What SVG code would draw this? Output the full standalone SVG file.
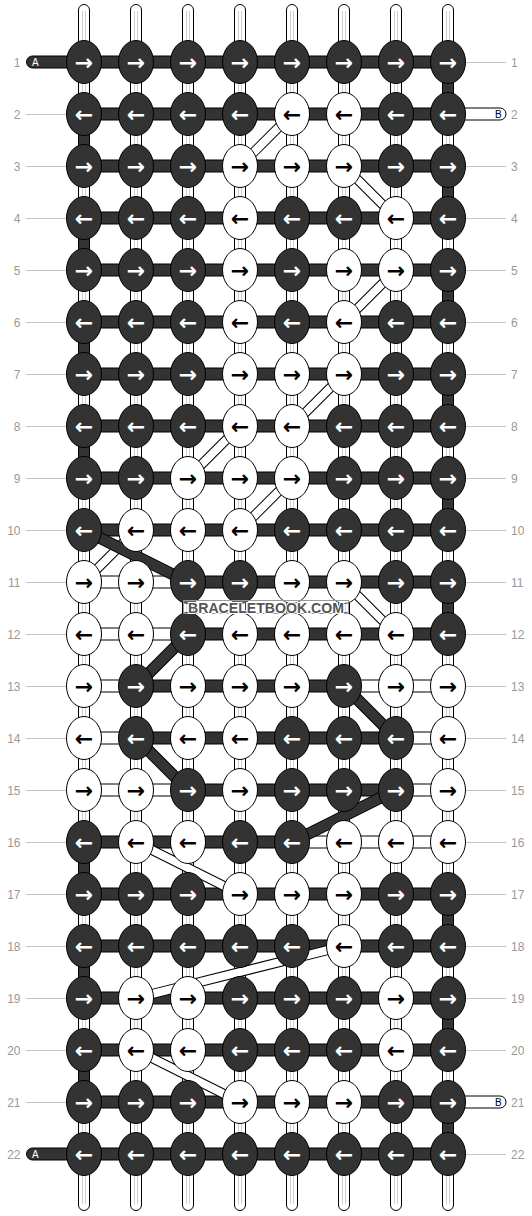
<svg xmlns="http://www.w3.org/2000/svg" width="532" height="1216" viewBox="0 0 532 1216">
<style>
.lbl{font-family:"Liberation Sans",Arial,sans-serif;font-size:12px;fill:#999}
.lr{text-anchor:end}
.gl{stroke:#c4c4c4;stroke-width:1}
.warp{fill:#fff;stroke:#000;stroke-width:1}
.wl{stroke:#cfcfcf;stroke-width:1}
.bd{fill:#333;stroke:#000;stroke-width:1}
.bw{fill:#fff;stroke:#000;stroke-width:1}
.kd{fill:#333;stroke:#000;stroke-width:1}
.kw{fill:#fff;stroke:#000;stroke-width:1}
.a{font-family:"DejaVu Sans",sans-serif;font-size:22px;font-weight:bold;text-anchor:middle;transform:translate(0px,7.5px)}
.ad{fill:#fff}
.aw{fill:#000}
.sl{font-family:"Liberation Sans",Arial,sans-serif;font-size:10px}
.wbo{stroke:#000;stroke-width:10;fill:none}
.wbi{stroke:#fff;stroke-width:8;fill:none}
.dbo{stroke:#000;stroke-width:12;fill:none}
.dbi{stroke:#333;stroke-width:10;fill:none}
.wm{font-family:"Liberation Sans",Arial,sans-serif;font-size:14px;font-weight:bold;fill:#555;stroke:#fff;stroke-width:2;paint-order:stroke;text-anchor:middle}
</style>
<g id="labels">
<line class="gl" x1="26" y1="114.5" x2="70" y2="114.5"/><line class="gl" x1="26" y1="166.5" x2="70" y2="166.5"/><line class="gl" x1="26" y1="218.5" x2="70" y2="218.5"/><line class="gl" x1="26" y1="270.5" x2="70" y2="270.5"/><line class="gl" x1="26" y1="322.5" x2="70" y2="322.5"/><line class="gl" x1="26" y1="374.5" x2="70" y2="374.5"/><line class="gl" x1="26" y1="426.5" x2="70" y2="426.5"/><line class="gl" x1="26" y1="478.5" x2="70" y2="478.5"/><line class="gl" x1="26" y1="530.5" x2="70" y2="530.5"/><line class="gl" x1="26" y1="582.5" x2="70" y2="582.5"/><line class="gl" x1="26" y1="634.5" x2="70" y2="634.5"/><line class="gl" x1="26" y1="686.5" x2="70" y2="686.5"/><line class="gl" x1="26" y1="738.5" x2="70" y2="738.5"/><line class="gl" x1="26" y1="790.5" x2="70" y2="790.5"/><line class="gl" x1="26" y1="842.5" x2="70" y2="842.5"/><line class="gl" x1="26" y1="894.5" x2="70" y2="894.5"/><line class="gl" x1="26" y1="946.5" x2="70" y2="946.5"/><line class="gl" x1="26" y1="998.5" x2="70" y2="998.5"/><line class="gl" x1="26" y1="1050.5" x2="70" y2="1050.5"/><line class="gl" x1="26" y1="1102.5" x2="70" y2="1102.5"/>
<line class="gl" x1="462" y1="62.5" x2="506" y2="62.5"/><line class="gl" x1="462" y1="166.5" x2="506" y2="166.5"/><line class="gl" x1="462" y1="218.5" x2="506" y2="218.5"/><line class="gl" x1="462" y1="270.5" x2="506" y2="270.5"/><line class="gl" x1="462" y1="322.5" x2="506" y2="322.5"/><line class="gl" x1="462" y1="374.5" x2="506" y2="374.5"/><line class="gl" x1="462" y1="426.5" x2="506" y2="426.5"/><line class="gl" x1="462" y1="478.5" x2="506" y2="478.5"/><line class="gl" x1="462" y1="530.5" x2="506" y2="530.5"/><line class="gl" x1="462" y1="582.5" x2="506" y2="582.5"/><line class="gl" x1="462" y1="634.5" x2="506" y2="634.5"/><line class="gl" x1="462" y1="686.5" x2="506" y2="686.5"/><line class="gl" x1="462" y1="738.5" x2="506" y2="738.5"/><line class="gl" x1="462" y1="790.5" x2="506" y2="790.5"/><line class="gl" x1="462" y1="842.5" x2="506" y2="842.5"/><line class="gl" x1="462" y1="894.5" x2="506" y2="894.5"/><line class="gl" x1="462" y1="946.5" x2="506" y2="946.5"/><line class="gl" x1="462" y1="998.5" x2="506" y2="998.5"/><line class="gl" x1="462" y1="1050.5" x2="506" y2="1050.5"/><line class="gl" x1="462" y1="1154.5" x2="506" y2="1154.5"/>
<text class="lbl lr" x="20.5" y="66.5">1</text><text class="lbl lr" x="20.5" y="118.5">2</text><text class="lbl lr" x="20.5" y="170.5">3</text><text class="lbl lr" x="20.5" y="222.5">4</text><text class="lbl lr" x="20.5" y="274.5">5</text><text class="lbl lr" x="20.5" y="326.5">6</text><text class="lbl lr" x="20.5" y="378.5">7</text><text class="lbl lr" x="20.5" y="430.5">8</text><text class="lbl lr" x="20.5" y="482.5">9</text><text class="lbl lr" x="20.5" y="534.5">10</text><text class="lbl lr" x="20.5" y="586.5">11</text><text class="lbl lr" x="20.5" y="638.5">12</text><text class="lbl lr" x="20.5" y="690.5">13</text><text class="lbl lr" x="20.5" y="742.5">14</text><text class="lbl lr" x="20.5" y="794.5">15</text><text class="lbl lr" x="20.5" y="846.5">16</text><text class="lbl lr" x="20.5" y="898.5">17</text><text class="lbl lr" x="20.5" y="950.5">18</text><text class="lbl lr" x="20.5" y="1002.5">19</text><text class="lbl lr" x="20.5" y="1054.5">20</text><text class="lbl lr" x="20.5" y="1106.5">21</text><text class="lbl lr" x="20.5" y="1158.5">22</text>
<text class="lbl" x="511" y="66.5">1</text><text class="lbl" x="511" y="118.5">2</text><text class="lbl" x="511" y="170.5">3</text><text class="lbl" x="511" y="222.5">4</text><text class="lbl" x="511" y="274.5">5</text><text class="lbl" x="511" y="326.5">6</text><text class="lbl" x="511" y="378.5">7</text><text class="lbl" x="511" y="430.5">8</text><text class="lbl" x="511" y="482.5">9</text><text class="lbl" x="511" y="534.5">10</text><text class="lbl" x="511" y="586.5">11</text><text class="lbl" x="511" y="638.5">12</text><text class="lbl" x="511" y="690.5">13</text><text class="lbl" x="511" y="742.5">14</text><text class="lbl" x="511" y="794.5">15</text><text class="lbl" x="511" y="846.5">16</text><text class="lbl" x="511" y="898.5">17</text><text class="lbl" x="511" y="950.5">18</text><text class="lbl" x="511" y="1002.5">19</text><text class="lbl" x="511" y="1054.5">20</text><text class="lbl" x="511" y="1106.5">21</text><text class="lbl" x="511" y="1158.5">22</text>
</g>
<g id="warps">
<rect class="warp" x="78.5" y="4.5" width="11" height="1206" rx="5.5"/><rect class="warp" x="130.5" y="4.5" width="11" height="1206" rx="5.5"/><rect class="warp" x="182.5" y="4.5" width="11" height="1206" rx="5.5"/><rect class="warp" x="234.5" y="4.5" width="11" height="1206" rx="5.5"/><rect class="warp" x="286.5" y="4.5" width="11" height="1206" rx="5.5"/><rect class="warp" x="338.5" y="4.5" width="11" height="1206" rx="5.5"/><rect class="warp" x="390.5" y="4.5" width="11" height="1206" rx="5.5"/><rect class="warp" x="442.5" y="4.5" width="11" height="1206" rx="5.5"/>
<path class="wl" d="M82.5 11V1204M85.5 11V1204M134.5 11V1204M137.5 11V1204M186.5 11V1204M189.5 11V1204M238.5 11V1204M241.5 11V1204M290.5 11V1204M293.5 11V1204M342.5 11V1204M345.5 11V1204M394.5 11V1204M397.5 11V1204M446.5 11V1204M449.5 11V1204"/>
</g>
<g id="connectors">
<rect class="bd" x="26.5" y="56" width="56" height="12" rx="6"/><text class="sl" x="32" y="66" fill="#fff">A</text>
<rect class="bd" x="26.5" y="1148" width="56" height="12" rx="6"/><text class="sl" x="32" y="1158" fill="#fff">A</text>
<rect class="bw" x="440" y="108" width="66" height="12" rx="6"/><text class="sl" x="495" y="118" fill="#000">B</text>
<rect class="bw" x="440" y="1096" width="66" height="12" rx="6"/><text class="sl" x="495" y="1106" fill="#000">B</text>
<g id="bars">
<rect class="bd" x="94" y="56" width="32" height="12"/><rect class="bd" x="146" y="56" width="32" height="12"/><rect class="bd" x="198" y="56" width="32" height="12"/><rect class="bd" x="250" y="56" width="32" height="12"/><rect class="bd" x="302" y="56" width="32" height="12"/><rect class="bd" x="354" y="56" width="32" height="12"/><rect class="bd" x="406" y="56" width="32" height="12"/>
<rect class="bd" x="94" y="108" width="32" height="12"/><rect class="bd" x="146" y="108" width="32" height="12"/><rect class="bd" x="198" y="108" width="32" height="12"/><rect class="bd" x="250" y="108" width="32" height="12"/><rect class="bd" x="302" y="108" width="32" height="12"/><rect class="bd" x="354" y="108" width="32" height="12"/><rect class="bd" x="406" y="108" width="32" height="12"/>
<rect class="bd" x="94" y="160" width="32" height="12"/><rect class="bd" x="146" y="160" width="32" height="12"/><rect class="bd" x="198" y="160" width="32" height="12"/><rect class="bd" x="250" y="160" width="32" height="12"/><rect class="bd" x="302" y="160" width="32" height="12"/><rect class="bd" x="354" y="160" width="32" height="12"/><rect class="bd" x="406" y="160" width="32" height="12"/>
<rect class="bd" x="94" y="212" width="32" height="12"/><rect class="bd" x="146" y="212" width="32" height="12"/><rect class="bd" x="198" y="212" width="32" height="12"/><rect class="bd" x="250" y="212" width="32" height="12"/><rect class="bd" x="302" y="212" width="32" height="12"/><rect class="bd" x="354" y="212" width="32" height="12"/><rect class="bd" x="406" y="212" width="32" height="12"/>
<rect class="bd" x="94" y="264" width="32" height="12"/><rect class="bd" x="146" y="264" width="32" height="12"/><rect class="bd" x="198" y="264" width="32" height="12"/><rect class="bd" x="250" y="264" width="32" height="12"/><rect class="bd" x="302" y="264" width="32" height="12"/><rect class="bd" x="354" y="264" width="32" height="12"/><rect class="bd" x="406" y="264" width="32" height="12"/>
<rect class="bd" x="94" y="316" width="32" height="12"/><rect class="bd" x="146" y="316" width="32" height="12"/><rect class="bd" x="198" y="316" width="32" height="12"/><rect class="bd" x="250" y="316" width="32" height="12"/><rect class="bd" x="302" y="316" width="32" height="12"/><rect class="bd" x="354" y="316" width="32" height="12"/><rect class="bd" x="406" y="316" width="32" height="12"/>
<rect class="bd" x="94" y="368" width="32" height="12"/><rect class="bd" x="146" y="368" width="32" height="12"/><rect class="bd" x="198" y="368" width="32" height="12"/><rect class="bd" x="250" y="368" width="32" height="12"/><rect class="bd" x="302" y="368" width="32" height="12"/><rect class="bd" x="354" y="368" width="32" height="12"/><rect class="bd" x="406" y="368" width="32" height="12"/>
<rect class="bd" x="94" y="420" width="32" height="12"/><rect class="bd" x="146" y="420" width="32" height="12"/><rect class="bd" x="198" y="420" width="32" height="12"/><rect class="bd" x="250" y="420" width="32" height="12"/><rect class="bd" x="302" y="420" width="32" height="12"/><rect class="bd" x="354" y="420" width="32" height="12"/><rect class="bd" x="406" y="420" width="32" height="12"/>
<rect class="bd" x="94" y="472" width="32" height="12"/><rect class="bd" x="146" y="472" width="32" height="12"/><rect class="bd" x="198" y="472" width="32" height="12"/><rect class="bd" x="250" y="472" width="32" height="12"/><rect class="bd" x="302" y="472" width="32" height="12"/><rect class="bd" x="354" y="472" width="32" height="12"/><rect class="bd" x="406" y="472" width="32" height="12"/>
<rect class="bd" x="94" y="524" width="32" height="12"/><rect class="bd" x="146" y="524" width="32" height="12"/><rect class="bd" x="198" y="524" width="32" height="12"/><rect class="bd" x="250" y="524" width="32" height="12"/><rect class="bd" x="302" y="524" width="32" height="12"/><rect class="bd" x="354" y="524" width="32" height="12"/><rect class="bd" x="406" y="524" width="32" height="12"/>
<rect class="bw" x="94" y="576" width="32" height="12"/><rect class="bw" x="146" y="576" width="32" height="12"/><rect class="bd" x="198" y="576" width="32" height="12"/><rect class="bd" x="250" y="576" width="32" height="12"/><rect class="bd" x="302" y="576" width="32" height="12"/><rect class="bd" x="354" y="576" width="32" height="12"/><rect class="bd" x="406" y="576" width="32" height="12"/>
<rect class="bw" x="94" y="628" width="32" height="12"/><rect class="bw" x="146" y="628" width="32" height="12"/><rect class="bd" x="198" y="628" width="32" height="12"/><rect class="bd" x="250" y="628" width="32" height="12"/><rect class="bd" x="302" y="628" width="32" height="12"/><rect class="bd" x="354" y="628" width="32" height="12"/><rect class="bd" x="406" y="628" width="32" height="12"/>
<rect class="bw" x="94" y="680" width="32" height="12"/><rect class="bd" x="146" y="680" width="32" height="12"/><rect class="bd" x="198" y="680" width="32" height="12"/><rect class="bd" x="250" y="680" width="32" height="12"/><rect class="bd" x="302" y="680" width="32" height="12"/><rect class="bw" x="354" y="680" width="32" height="12"/><rect class="bw" x="406" y="680" width="32" height="12"/>
<rect class="bw" x="94" y="732" width="32" height="12"/><rect class="bd" x="146" y="732" width="32" height="12"/><rect class="bd" x="198" y="732" width="32" height="12"/><rect class="bd" x="250" y="732" width="32" height="12"/><rect class="bd" x="302" y="732" width="32" height="12"/><rect class="bd" x="354" y="732" width="32" height="12"/><rect class="bw" x="406" y="732" width="32" height="12"/>
<rect class="bw" x="94" y="784" width="32" height="12"/><rect class="bw" x="146" y="784" width="32" height="12"/><rect class="bd" x="198" y="784" width="32" height="12"/><rect class="bd" x="250" y="784" width="32" height="12"/><rect class="bd" x="302" y="784" width="32" height="12"/><rect class="bd" x="354" y="784" width="32" height="12"/><rect class="bw" x="406" y="784" width="32" height="12"/>
<rect class="bd" x="94" y="836" width="32" height="12"/><rect class="bd" x="146" y="836" width="32" height="12"/><rect class="bd" x="198" y="836" width="32" height="12"/><rect class="bd" x="250" y="836" width="32" height="12"/><rect class="bw" x="302" y="836" width="32" height="12"/><rect class="bw" x="354" y="836" width="32" height="12"/><rect class="bw" x="406" y="836" width="32" height="12"/>
<rect class="bd" x="94" y="888" width="32" height="12"/><rect class="bd" x="146" y="888" width="32" height="12"/><rect class="bd" x="198" y="888" width="32" height="12"/><rect class="bd" x="250" y="888" width="32" height="12"/><rect class="bd" x="302" y="888" width="32" height="12"/><rect class="bd" x="354" y="888" width="32" height="12"/><rect class="bd" x="406" y="888" width="32" height="12"/>
<rect class="bd" x="94" y="940" width="32" height="12"/><rect class="bd" x="146" y="940" width="32" height="12"/><rect class="bd" x="198" y="940" width="32" height="12"/><rect class="bd" x="250" y="940" width="32" height="12"/><rect class="bd" x="302" y="940" width="32" height="12"/><rect class="bd" x="354" y="940" width="32" height="12"/><rect class="bd" x="406" y="940" width="32" height="12"/>
<rect class="bd" x="94" y="992" width="32" height="12"/><rect class="bd" x="146" y="992" width="32" height="12"/><rect class="bd" x="198" y="992" width="32" height="12"/><rect class="bd" x="250" y="992" width="32" height="12"/><rect class="bd" x="302" y="992" width="32" height="12"/><rect class="bd" x="354" y="992" width="32" height="12"/><rect class="bd" x="406" y="992" width="32" height="12"/>
<rect class="bd" x="94" y="1044" width="32" height="12"/><rect class="bd" x="146" y="1044" width="32" height="12"/><rect class="bd" x="198" y="1044" width="32" height="12"/><rect class="bd" x="250" y="1044" width="32" height="12"/><rect class="bd" x="302" y="1044" width="32" height="12"/><rect class="bd" x="354" y="1044" width="32" height="12"/><rect class="bd" x="406" y="1044" width="32" height="12"/>
<rect class="bd" x="94" y="1096" width="32" height="12"/><rect class="bd" x="146" y="1096" width="32" height="12"/><rect class="bd" x="198" y="1096" width="32" height="12"/><rect class="bd" x="250" y="1096" width="32" height="12"/><rect class="bd" x="302" y="1096" width="32" height="12"/><rect class="bd" x="354" y="1096" width="32" height="12"/><rect class="bd" x="406" y="1096" width="32" height="12"/>
<rect class="bd" x="94" y="1148" width="32" height="12"/><rect class="bd" x="146" y="1148" width="32" height="12"/><rect class="bd" x="198" y="1148" width="32" height="12"/><rect class="bd" x="250" y="1148" width="32" height="12"/><rect class="bd" x="302" y="1148" width="32" height="12"/><rect class="bd" x="354" y="1148" width="32" height="12"/><rect class="bd" x="406" y="1148" width="32" height="12"/>
</g>
<g id="turns">
<rect class="bd" x="78.5" y="126" width="11" height="28"/><rect class="bd" x="78.5" y="230" width="11" height="28"/><rect class="bd" x="78.5" y="334" width="11" height="28"/><rect class="bd" x="78.5" y="438" width="11" height="28"/><rect class="bd" x="78.5" y="854" width="11" height="28"/><rect class="bd" x="78.5" y="958" width="11" height="28"/><rect class="bd" x="78.5" y="1062" width="11" height="28"/>
<rect class="bd" x="442.5" y="74" width="11" height="28"/><rect class="bd" x="442.5" y="178" width="11" height="28"/><rect class="bd" x="442.5" y="282" width="11" height="28"/><rect class="bd" x="442.5" y="386" width="11" height="28"/><rect class="bd" x="442.5" y="490" width="11" height="28"/><rect class="bd" x="442.5" y="594" width="11" height="28"/><rect class="bd" x="442.5" y="906" width="11" height="28"/><rect class="bd" x="442.5" y="1010" width="11" height="28"/><rect class="bd" x="442.5" y="1114" width="11" height="28"/>
</g>
<g id="diagonals">
<path class="wbo" d="M292 114L240 166M344 166L396 218M396 270L344 322M344 374L292 426M240 426L188 478M292 478L240 530M136 530L84 582M344 582L396 634M136 842L240 894M344 946L136 998M136 1050L240 1102"/>
<path class="wbi" d="M292 114L240 166M344 166L396 218M396 270L344 322M344 374L292 426M240 426L188 478M292 478L240 530M136 530L84 582M344 582L396 634M136 842L240 894M344 946L136 998M136 1050L240 1102"/>
<path class="dbo" d="M84 530L188 582M188 634L136 686M136 738L188 790M344 686L396 738M396 790L292 842"/>
<path class="dbi" d="M84 530L188 582M188 634L136 686M136 738L188 790M344 686L396 738M396 790L292 842"/>
</g>
</g>
<g id="knots">
<g id="k1-1"><ellipse class="kd" cx="84" cy="62" rx="17.5" ry="21.5"/><text class="a ad" x="84" y="62">→</text></g>
<g id="k1-2"><ellipse class="kd" cx="136" cy="62" rx="17.5" ry="21.5"/><text class="a ad" x="136" y="62">→</text></g>
<g id="k1-3"><ellipse class="kd" cx="188" cy="62" rx="17.5" ry="21.5"/><text class="a ad" x="188" y="62">→</text></g>
<g id="k1-4"><ellipse class="kd" cx="240" cy="62" rx="17.5" ry="21.5"/><text class="a ad" x="240" y="62">→</text></g>
<g id="k1-5"><ellipse class="kd" cx="292" cy="62" rx="17.5" ry="21.5"/><text class="a ad" x="292" y="62">→</text></g>
<g id="k1-6"><ellipse class="kd" cx="344" cy="62" rx="17.5" ry="21.5"/><text class="a ad" x="344" y="62">→</text></g>
<g id="k1-7"><ellipse class="kd" cx="396" cy="62" rx="17.5" ry="21.5"/><text class="a ad" x="396" y="62">→</text></g>
<g id="k1-8"><ellipse class="kd" cx="448" cy="62" rx="17.5" ry="21.5"/><text class="a ad" x="448" y="62">→</text></g>
<g id="k2-1"><ellipse class="kd" cx="84" cy="114" rx="17.5" ry="21.5"/><text class="a ad" x="84" y="114">←</text></g>
<g id="k2-2"><ellipse class="kd" cx="136" cy="114" rx="17.5" ry="21.5"/><text class="a ad" x="136" y="114">←</text></g>
<g id="k2-3"><ellipse class="kd" cx="188" cy="114" rx="17.5" ry="21.5"/><text class="a ad" x="188" y="114">←</text></g>
<g id="k2-4"><ellipse class="kd" cx="240" cy="114" rx="17.5" ry="21.5"/><text class="a ad" x="240" y="114">←</text></g>
<g id="k2-5"><ellipse class="kw" cx="292" cy="114" rx="17.5" ry="21.5"/><text class="a aw" x="292" y="114">←</text></g>
<g id="k2-6"><ellipse class="kw" cx="344" cy="114" rx="17.5" ry="21.5"/><text class="a aw" x="344" y="114">←</text></g>
<g id="k2-7"><ellipse class="kd" cx="396" cy="114" rx="17.5" ry="21.5"/><text class="a ad" x="396" y="114">←</text></g>
<g id="k2-8"><ellipse class="kd" cx="448" cy="114" rx="17.5" ry="21.5"/><text class="a ad" x="448" y="114">←</text></g>
<g id="k3-1"><ellipse class="kd" cx="84" cy="166" rx="17.5" ry="21.5"/><text class="a ad" x="84" y="166">→</text></g>
<g id="k3-2"><ellipse class="kd" cx="136" cy="166" rx="17.5" ry="21.5"/><text class="a ad" x="136" y="166">→</text></g>
<g id="k3-3"><ellipse class="kd" cx="188" cy="166" rx="17.5" ry="21.5"/><text class="a ad" x="188" y="166">→</text></g>
<g id="k3-4"><ellipse class="kw" cx="240" cy="166" rx="17.5" ry="21.5"/><text class="a aw" x="240" y="166">→</text></g>
<g id="k3-5"><ellipse class="kw" cx="292" cy="166" rx="17.5" ry="21.5"/><text class="a aw" x="292" y="166">→</text></g>
<g id="k3-6"><ellipse class="kw" cx="344" cy="166" rx="17.5" ry="21.5"/><text class="a aw" x="344" y="166">→</text></g>
<g id="k3-7"><ellipse class="kd" cx="396" cy="166" rx="17.5" ry="21.5"/><text class="a ad" x="396" y="166">→</text></g>
<g id="k3-8"><ellipse class="kd" cx="448" cy="166" rx="17.5" ry="21.5"/><text class="a ad" x="448" y="166">→</text></g>
<g id="k4-1"><ellipse class="kd" cx="84" cy="218" rx="17.5" ry="21.5"/><text class="a ad" x="84" y="218">←</text></g>
<g id="k4-2"><ellipse class="kd" cx="136" cy="218" rx="17.5" ry="21.5"/><text class="a ad" x="136" y="218">←</text></g>
<g id="k4-3"><ellipse class="kd" cx="188" cy="218" rx="17.5" ry="21.5"/><text class="a ad" x="188" y="218">←</text></g>
<g id="k4-4"><ellipse class="kw" cx="240" cy="218" rx="17.5" ry="21.5"/><text class="a aw" x="240" y="218">←</text></g>
<g id="k4-5"><ellipse class="kd" cx="292" cy="218" rx="17.5" ry="21.5"/><text class="a ad" x="292" y="218">←</text></g>
<g id="k4-6"><ellipse class="kd" cx="344" cy="218" rx="17.5" ry="21.5"/><text class="a ad" x="344" y="218">←</text></g>
<g id="k4-7"><ellipse class="kw" cx="396" cy="218" rx="17.5" ry="21.5"/><text class="a aw" x="396" y="218">←</text></g>
<g id="k4-8"><ellipse class="kd" cx="448" cy="218" rx="17.5" ry="21.5"/><text class="a ad" x="448" y="218">←</text></g>
<g id="k5-1"><ellipse class="kd" cx="84" cy="270" rx="17.5" ry="21.5"/><text class="a ad" x="84" y="270">→</text></g>
<g id="k5-2"><ellipse class="kd" cx="136" cy="270" rx="17.5" ry="21.5"/><text class="a ad" x="136" y="270">→</text></g>
<g id="k5-3"><ellipse class="kd" cx="188" cy="270" rx="17.5" ry="21.5"/><text class="a ad" x="188" y="270">→</text></g>
<g id="k5-4"><ellipse class="kw" cx="240" cy="270" rx="17.5" ry="21.5"/><text class="a aw" x="240" y="270">→</text></g>
<g id="k5-5"><ellipse class="kd" cx="292" cy="270" rx="17.5" ry="21.5"/><text class="a ad" x="292" y="270">→</text></g>
<g id="k5-6"><ellipse class="kw" cx="344" cy="270" rx="17.5" ry="21.5"/><text class="a aw" x="344" y="270">→</text></g>
<g id="k5-7"><ellipse class="kw" cx="396" cy="270" rx="17.5" ry="21.5"/><text class="a aw" x="396" y="270">→</text></g>
<g id="k5-8"><ellipse class="kd" cx="448" cy="270" rx="17.5" ry="21.5"/><text class="a ad" x="448" y="270">→</text></g>
<g id="k6-1"><ellipse class="kd" cx="84" cy="322" rx="17.5" ry="21.5"/><text class="a ad" x="84" y="322">←</text></g>
<g id="k6-2"><ellipse class="kd" cx="136" cy="322" rx="17.5" ry="21.5"/><text class="a ad" x="136" y="322">←</text></g>
<g id="k6-3"><ellipse class="kd" cx="188" cy="322" rx="17.5" ry="21.5"/><text class="a ad" x="188" y="322">←</text></g>
<g id="k6-4"><ellipse class="kw" cx="240" cy="322" rx="17.5" ry="21.5"/><text class="a aw" x="240" y="322">←</text></g>
<g id="k6-5"><ellipse class="kd" cx="292" cy="322" rx="17.5" ry="21.5"/><text class="a ad" x="292" y="322">←</text></g>
<g id="k6-6"><ellipse class="kw" cx="344" cy="322" rx="17.5" ry="21.5"/><text class="a aw" x="344" y="322">←</text></g>
<g id="k6-7"><ellipse class="kd" cx="396" cy="322" rx="17.5" ry="21.5"/><text class="a ad" x="396" y="322">←</text></g>
<g id="k6-8"><ellipse class="kd" cx="448" cy="322" rx="17.5" ry="21.5"/><text class="a ad" x="448" y="322">←</text></g>
<g id="k7-1"><ellipse class="kd" cx="84" cy="374" rx="17.5" ry="21.5"/><text class="a ad" x="84" y="374">→</text></g>
<g id="k7-2"><ellipse class="kd" cx="136" cy="374" rx="17.5" ry="21.5"/><text class="a ad" x="136" y="374">→</text></g>
<g id="k7-3"><ellipse class="kd" cx="188" cy="374" rx="17.5" ry="21.5"/><text class="a ad" x="188" y="374">→</text></g>
<g id="k7-4"><ellipse class="kw" cx="240" cy="374" rx="17.5" ry="21.5"/><text class="a aw" x="240" y="374">→</text></g>
<g id="k7-5"><ellipse class="kw" cx="292" cy="374" rx="17.5" ry="21.5"/><text class="a aw" x="292" y="374">→</text></g>
<g id="k7-6"><ellipse class="kw" cx="344" cy="374" rx="17.5" ry="21.5"/><text class="a aw" x="344" y="374">→</text></g>
<g id="k7-7"><ellipse class="kd" cx="396" cy="374" rx="17.5" ry="21.5"/><text class="a ad" x="396" y="374">→</text></g>
<g id="k7-8"><ellipse class="kd" cx="448" cy="374" rx="17.5" ry="21.5"/><text class="a ad" x="448" y="374">→</text></g>
<g id="k8-1"><ellipse class="kd" cx="84" cy="426" rx="17.5" ry="21.5"/><text class="a ad" x="84" y="426">←</text></g>
<g id="k8-2"><ellipse class="kd" cx="136" cy="426" rx="17.5" ry="21.5"/><text class="a ad" x="136" y="426">←</text></g>
<g id="k8-3"><ellipse class="kd" cx="188" cy="426" rx="17.5" ry="21.5"/><text class="a ad" x="188" y="426">←</text></g>
<g id="k8-4"><ellipse class="kw" cx="240" cy="426" rx="17.5" ry="21.5"/><text class="a aw" x="240" y="426">←</text></g>
<g id="k8-5"><ellipse class="kw" cx="292" cy="426" rx="17.5" ry="21.5"/><text class="a aw" x="292" y="426">←</text></g>
<g id="k8-6"><ellipse class="kd" cx="344" cy="426" rx="17.5" ry="21.5"/><text class="a ad" x="344" y="426">←</text></g>
<g id="k8-7"><ellipse class="kd" cx="396" cy="426" rx="17.5" ry="21.5"/><text class="a ad" x="396" y="426">←</text></g>
<g id="k8-8"><ellipse class="kd" cx="448" cy="426" rx="17.5" ry="21.5"/><text class="a ad" x="448" y="426">←</text></g>
<g id="k9-1"><ellipse class="kd" cx="84" cy="478" rx="17.5" ry="21.5"/><text class="a ad" x="84" y="478">→</text></g>
<g id="k9-2"><ellipse class="kd" cx="136" cy="478" rx="17.5" ry="21.5"/><text class="a ad" x="136" y="478">→</text></g>
<g id="k9-3"><ellipse class="kw" cx="188" cy="478" rx="17.5" ry="21.5"/><text class="a aw" x="188" y="478">→</text></g>
<g id="k9-4"><ellipse class="kw" cx="240" cy="478" rx="17.5" ry="21.5"/><text class="a aw" x="240" y="478">→</text></g>
<g id="k9-5"><ellipse class="kw" cx="292" cy="478" rx="17.5" ry="21.5"/><text class="a aw" x="292" y="478">→</text></g>
<g id="k9-6"><ellipse class="kd" cx="344" cy="478" rx="17.5" ry="21.5"/><text class="a ad" x="344" y="478">→</text></g>
<g id="k9-7"><ellipse class="kd" cx="396" cy="478" rx="17.5" ry="21.5"/><text class="a ad" x="396" y="478">→</text></g>
<g id="k9-8"><ellipse class="kd" cx="448" cy="478" rx="17.5" ry="21.5"/><text class="a ad" x="448" y="478">→</text></g>
<g id="k10-1"><ellipse class="kd" cx="84" cy="530" rx="17.5" ry="21.5"/><text class="a ad" x="84" y="530">←</text></g>
<g id="k10-2"><ellipse class="kw" cx="136" cy="530" rx="17.5" ry="21.5"/><text class="a aw" x="136" y="530">←</text></g>
<g id="k10-3"><ellipse class="kw" cx="188" cy="530" rx="17.5" ry="21.5"/><text class="a aw" x="188" y="530">←</text></g>
<g id="k10-4"><ellipse class="kw" cx="240" cy="530" rx="17.5" ry="21.5"/><text class="a aw" x="240" y="530">←</text></g>
<g id="k10-5"><ellipse class="kd" cx="292" cy="530" rx="17.5" ry="21.5"/><text class="a ad" x="292" y="530">←</text></g>
<g id="k10-6"><ellipse class="kd" cx="344" cy="530" rx="17.5" ry="21.5"/><text class="a ad" x="344" y="530">←</text></g>
<g id="k10-7"><ellipse class="kd" cx="396" cy="530" rx="17.5" ry="21.5"/><text class="a ad" x="396" y="530">←</text></g>
<g id="k10-8"><ellipse class="kd" cx="448" cy="530" rx="17.5" ry="21.5"/><text class="a ad" x="448" y="530">←</text></g>
<g id="k11-1"><ellipse class="kw" cx="84" cy="582" rx="17.5" ry="21.5"/><text class="a aw" x="84" y="582">→</text></g>
<g id="k11-2"><ellipse class="kw" cx="136" cy="582" rx="17.5" ry="21.5"/><text class="a aw" x="136" y="582">→</text></g>
<g id="k11-3"><ellipse class="kd" cx="188" cy="582" rx="17.5" ry="21.5"/><text class="a ad" x="188" y="582">→</text></g>
<g id="k11-4"><ellipse class="kd" cx="240" cy="582" rx="17.5" ry="21.5"/><text class="a ad" x="240" y="582">→</text></g>
<g id="k11-5"><ellipse class="kw" cx="292" cy="582" rx="17.5" ry="21.5"/><text class="a aw" x="292" y="582">→</text></g>
<g id="k11-6"><ellipse class="kw" cx="344" cy="582" rx="17.5" ry="21.5"/><text class="a aw" x="344" y="582">→</text></g>
<g id="k11-7"><ellipse class="kd" cx="396" cy="582" rx="17.5" ry="21.5"/><text class="a ad" x="396" y="582">→</text></g>
<g id="k11-8"><ellipse class="kd" cx="448" cy="582" rx="17.5" ry="21.5"/><text class="a ad" x="448" y="582">→</text></g>
<g id="k12-1"><ellipse class="kw" cx="84" cy="634" rx="17.5" ry="21.5"/><text class="a aw" x="84" y="634">←</text></g>
<g id="k12-2"><ellipse class="kw" cx="136" cy="634" rx="17.5" ry="21.5"/><text class="a aw" x="136" y="634">←</text></g>
<g id="k12-3"><ellipse class="kd" cx="188" cy="634" rx="17.5" ry="21.5"/><text class="a ad" x="188" y="634">←</text></g>
<g id="k12-4"><ellipse class="kw" cx="240" cy="634" rx="17.5" ry="21.5"/><text class="a aw" x="240" y="634">←</text></g>
<g id="k12-5"><ellipse class="kw" cx="292" cy="634" rx="17.5" ry="21.5"/><text class="a aw" x="292" y="634">←</text></g>
<g id="k12-6"><ellipse class="kw" cx="344" cy="634" rx="17.5" ry="21.5"/><text class="a aw" x="344" y="634">←</text></g>
<g id="k12-7"><ellipse class="kw" cx="396" cy="634" rx="17.5" ry="21.5"/><text class="a aw" x="396" y="634">←</text></g>
<g id="k12-8"><ellipse class="kd" cx="448" cy="634" rx="17.5" ry="21.5"/><text class="a ad" x="448" y="634">←</text></g>
<g id="k13-1"><ellipse class="kw" cx="84" cy="686" rx="17.5" ry="21.5"/><text class="a aw" x="84" y="686">→</text></g>
<g id="k13-2"><ellipse class="kd" cx="136" cy="686" rx="17.5" ry="21.5"/><text class="a ad" x="136" y="686">→</text></g>
<g id="k13-3"><ellipse class="kw" cx="188" cy="686" rx="17.5" ry="21.5"/><text class="a aw" x="188" y="686">→</text></g>
<g id="k13-4"><ellipse class="kw" cx="240" cy="686" rx="17.5" ry="21.5"/><text class="a aw" x="240" y="686">→</text></g>
<g id="k13-5"><ellipse class="kw" cx="292" cy="686" rx="17.5" ry="21.5"/><text class="a aw" x="292" y="686">→</text></g>
<g id="k13-6"><ellipse class="kd" cx="344" cy="686" rx="17.5" ry="21.5"/><text class="a ad" x="344" y="686">→</text></g>
<g id="k13-7"><ellipse class="kw" cx="396" cy="686" rx="17.5" ry="21.5"/><text class="a aw" x="396" y="686">→</text></g>
<g id="k13-8"><ellipse class="kw" cx="448" cy="686" rx="17.5" ry="21.5"/><text class="a aw" x="448" y="686">→</text></g>
<g id="k14-1"><ellipse class="kw" cx="84" cy="738" rx="17.5" ry="21.5"/><text class="a aw" x="84" y="738">←</text></g>
<g id="k14-2"><ellipse class="kd" cx="136" cy="738" rx="17.5" ry="21.5"/><text class="a ad" x="136" y="738">←</text></g>
<g id="k14-3"><ellipse class="kw" cx="188" cy="738" rx="17.5" ry="21.5"/><text class="a aw" x="188" y="738">←</text></g>
<g id="k14-4"><ellipse class="kw" cx="240" cy="738" rx="17.5" ry="21.5"/><text class="a aw" x="240" y="738">←</text></g>
<g id="k14-5"><ellipse class="kd" cx="292" cy="738" rx="17.5" ry="21.5"/><text class="a ad" x="292" y="738">←</text></g>
<g id="k14-6"><ellipse class="kd" cx="344" cy="738" rx="17.5" ry="21.5"/><text class="a ad" x="344" y="738">←</text></g>
<g id="k14-7"><ellipse class="kd" cx="396" cy="738" rx="17.5" ry="21.5"/><text class="a ad" x="396" y="738">←</text></g>
<g id="k14-8"><ellipse class="kw" cx="448" cy="738" rx="17.5" ry="21.5"/><text class="a aw" x="448" y="738">←</text></g>
<g id="k15-1"><ellipse class="kw" cx="84" cy="790" rx="17.5" ry="21.5"/><text class="a aw" x="84" y="790">→</text></g>
<g id="k15-2"><ellipse class="kw" cx="136" cy="790" rx="17.5" ry="21.5"/><text class="a aw" x="136" y="790">→</text></g>
<g id="k15-3"><ellipse class="kd" cx="188" cy="790" rx="17.5" ry="21.5"/><text class="a ad" x="188" y="790">→</text></g>
<g id="k15-4"><ellipse class="kw" cx="240" cy="790" rx="17.5" ry="21.5"/><text class="a aw" x="240" y="790">→</text></g>
<g id="k15-5"><ellipse class="kd" cx="292" cy="790" rx="17.5" ry="21.5"/><text class="a ad" x="292" y="790">→</text></g>
<g id="k15-6"><ellipse class="kd" cx="344" cy="790" rx="17.5" ry="21.5"/><text class="a ad" x="344" y="790">→</text></g>
<g id="k15-7"><ellipse class="kd" cx="396" cy="790" rx="17.5" ry="21.5"/><text class="a ad" x="396" y="790">→</text></g>
<g id="k15-8"><ellipse class="kw" cx="448" cy="790" rx="17.5" ry="21.5"/><text class="a aw" x="448" y="790">→</text></g>
<g id="k16-1"><ellipse class="kd" cx="84" cy="842" rx="17.5" ry="21.5"/><text class="a ad" x="84" y="842">←</text></g>
<g id="k16-2"><ellipse class="kw" cx="136" cy="842" rx="17.5" ry="21.5"/><text class="a aw" x="136" y="842">←</text></g>
<g id="k16-3"><ellipse class="kw" cx="188" cy="842" rx="17.5" ry="21.5"/><text class="a aw" x="188" y="842">←</text></g>
<g id="k16-4"><ellipse class="kd" cx="240" cy="842" rx="17.5" ry="21.5"/><text class="a ad" x="240" y="842">←</text></g>
<g id="k16-5"><ellipse class="kd" cx="292" cy="842" rx="17.5" ry="21.5"/><text class="a ad" x="292" y="842">←</text></g>
<g id="k16-6"><ellipse class="kw" cx="344" cy="842" rx="17.5" ry="21.5"/><text class="a aw" x="344" y="842">←</text></g>
<g id="k16-7"><ellipse class="kw" cx="396" cy="842" rx="17.5" ry="21.5"/><text class="a aw" x="396" y="842">←</text></g>
<g id="k16-8"><ellipse class="kw" cx="448" cy="842" rx="17.5" ry="21.5"/><text class="a aw" x="448" y="842">←</text></g>
<g id="k17-1"><ellipse class="kd" cx="84" cy="894" rx="17.5" ry="21.5"/><text class="a ad" x="84" y="894">→</text></g>
<g id="k17-2"><ellipse class="kd" cx="136" cy="894" rx="17.5" ry="21.5"/><text class="a ad" x="136" y="894">→</text></g>
<g id="k17-3"><ellipse class="kd" cx="188" cy="894" rx="17.5" ry="21.5"/><text class="a ad" x="188" y="894">→</text></g>
<g id="k17-4"><ellipse class="kw" cx="240" cy="894" rx="17.5" ry="21.5"/><text class="a aw" x="240" y="894">→</text></g>
<g id="k17-5"><ellipse class="kw" cx="292" cy="894" rx="17.5" ry="21.5"/><text class="a aw" x="292" y="894">→</text></g>
<g id="k17-6"><ellipse class="kw" cx="344" cy="894" rx="17.5" ry="21.5"/><text class="a aw" x="344" y="894">→</text></g>
<g id="k17-7"><ellipse class="kd" cx="396" cy="894" rx="17.5" ry="21.5"/><text class="a ad" x="396" y="894">→</text></g>
<g id="k17-8"><ellipse class="kd" cx="448" cy="894" rx="17.5" ry="21.5"/><text class="a ad" x="448" y="894">→</text></g>
<g id="k18-1"><ellipse class="kd" cx="84" cy="946" rx="17.5" ry="21.5"/><text class="a ad" x="84" y="946">←</text></g>
<g id="k18-2"><ellipse class="kd" cx="136" cy="946" rx="17.5" ry="21.5"/><text class="a ad" x="136" y="946">←</text></g>
<g id="k18-3"><ellipse class="kd" cx="188" cy="946" rx="17.5" ry="21.5"/><text class="a ad" x="188" y="946">←</text></g>
<g id="k18-4"><ellipse class="kd" cx="240" cy="946" rx="17.5" ry="21.5"/><text class="a ad" x="240" y="946">←</text></g>
<g id="k18-5"><ellipse class="kd" cx="292" cy="946" rx="17.5" ry="21.5"/><text class="a ad" x="292" y="946">←</text></g>
<g id="k18-6"><ellipse class="kw" cx="344" cy="946" rx="17.5" ry="21.5"/><text class="a aw" x="344" y="946">←</text></g>
<g id="k18-7"><ellipse class="kd" cx="396" cy="946" rx="17.5" ry="21.5"/><text class="a ad" x="396" y="946">←</text></g>
<g id="k18-8"><ellipse class="kd" cx="448" cy="946" rx="17.5" ry="21.5"/><text class="a ad" x="448" y="946">←</text></g>
<g id="k19-1"><ellipse class="kd" cx="84" cy="998" rx="17.5" ry="21.5"/><text class="a ad" x="84" y="998">→</text></g>
<g id="k19-2"><ellipse class="kw" cx="136" cy="998" rx="17.5" ry="21.5"/><text class="a aw" x="136" y="998">→</text></g>
<g id="k19-3"><ellipse class="kw" cx="188" cy="998" rx="17.5" ry="21.5"/><text class="a aw" x="188" y="998">→</text></g>
<g id="k19-4"><ellipse class="kd" cx="240" cy="998" rx="17.5" ry="21.5"/><text class="a ad" x="240" y="998">→</text></g>
<g id="k19-5"><ellipse class="kd" cx="292" cy="998" rx="17.5" ry="21.5"/><text class="a ad" x="292" y="998">→</text></g>
<g id="k19-6"><ellipse class="kd" cx="344" cy="998" rx="17.5" ry="21.5"/><text class="a ad" x="344" y="998">→</text></g>
<g id="k19-7"><ellipse class="kw" cx="396" cy="998" rx="17.5" ry="21.5"/><text class="a aw" x="396" y="998">→</text></g>
<g id="k19-8"><ellipse class="kd" cx="448" cy="998" rx="17.5" ry="21.5"/><text class="a ad" x="448" y="998">→</text></g>
<g id="k20-1"><ellipse class="kd" cx="84" cy="1050" rx="17.5" ry="21.5"/><text class="a ad" x="84" y="1050">←</text></g>
<g id="k20-2"><ellipse class="kw" cx="136" cy="1050" rx="17.5" ry="21.5"/><text class="a aw" x="136" y="1050">←</text></g>
<g id="k20-3"><ellipse class="kw" cx="188" cy="1050" rx="17.5" ry="21.5"/><text class="a aw" x="188" y="1050">←</text></g>
<g id="k20-4"><ellipse class="kd" cx="240" cy="1050" rx="17.5" ry="21.5"/><text class="a ad" x="240" y="1050">←</text></g>
<g id="k20-5"><ellipse class="kd" cx="292" cy="1050" rx="17.5" ry="21.5"/><text class="a ad" x="292" y="1050">←</text></g>
<g id="k20-6"><ellipse class="kd" cx="344" cy="1050" rx="17.5" ry="21.5"/><text class="a ad" x="344" y="1050">←</text></g>
<g id="k20-7"><ellipse class="kw" cx="396" cy="1050" rx="17.5" ry="21.5"/><text class="a aw" x="396" y="1050">←</text></g>
<g id="k20-8"><ellipse class="kd" cx="448" cy="1050" rx="17.5" ry="21.5"/><text class="a ad" x="448" y="1050">←</text></g>
<g id="k21-1"><ellipse class="kd" cx="84" cy="1102" rx="17.5" ry="21.5"/><text class="a ad" x="84" y="1102">→</text></g>
<g id="k21-2"><ellipse class="kd" cx="136" cy="1102" rx="17.5" ry="21.5"/><text class="a ad" x="136" y="1102">→</text></g>
<g id="k21-3"><ellipse class="kd" cx="188" cy="1102" rx="17.5" ry="21.5"/><text class="a ad" x="188" y="1102">→</text></g>
<g id="k21-4"><ellipse class="kw" cx="240" cy="1102" rx="17.5" ry="21.5"/><text class="a aw" x="240" y="1102">→</text></g>
<g id="k21-5"><ellipse class="kw" cx="292" cy="1102" rx="17.5" ry="21.5"/><text class="a aw" x="292" y="1102">→</text></g>
<g id="k21-6"><ellipse class="kw" cx="344" cy="1102" rx="17.5" ry="21.5"/><text class="a aw" x="344" y="1102">→</text></g>
<g id="k21-7"><ellipse class="kd" cx="396" cy="1102" rx="17.5" ry="21.5"/><text class="a ad" x="396" y="1102">→</text></g>
<g id="k21-8"><ellipse class="kd" cx="448" cy="1102" rx="17.5" ry="21.5"/><text class="a ad" x="448" y="1102">→</text></g>
<g id="k22-1"><ellipse class="kd" cx="84" cy="1154" rx="17.5" ry="21.5"/><text class="a ad" x="84" y="1154">←</text></g>
<g id="k22-2"><ellipse class="kd" cx="136" cy="1154" rx="17.5" ry="21.5"/><text class="a ad" x="136" y="1154">←</text></g>
<g id="k22-3"><ellipse class="kd" cx="188" cy="1154" rx="17.5" ry="21.5"/><text class="a ad" x="188" y="1154">←</text></g>
<g id="k22-4"><ellipse class="kd" cx="240" cy="1154" rx="17.5" ry="21.5"/><text class="a ad" x="240" y="1154">←</text></g>
<g id="k22-5"><ellipse class="kd" cx="292" cy="1154" rx="17.5" ry="21.5"/><text class="a ad" x="292" y="1154">←</text></g>
<g id="k22-6"><ellipse class="kd" cx="344" cy="1154" rx="17.5" ry="21.5"/><text class="a ad" x="344" y="1154">←</text></g>
<g id="k22-7"><ellipse class="kd" cx="396" cy="1154" rx="17.5" ry="21.5"/><text class="a ad" x="396" y="1154">←</text></g>
<g id="k22-8"><ellipse class="kd" cx="448" cy="1154" rx="17.5" ry="21.5"/><text class="a ad" x="448" y="1154">←</text></g>
</g>
<g id="watermark">
<rect x="183.5" y="600.5" width="165" height="13" fill="#fff" fill-opacity="0.25" stroke="#999" stroke-width="1"/>
<text class="wm" x="266" y="613" textLength="156" lengthAdjust="spacingAndGlyphs">BRACELETBOOK.COM</text>
</g>
</svg>
